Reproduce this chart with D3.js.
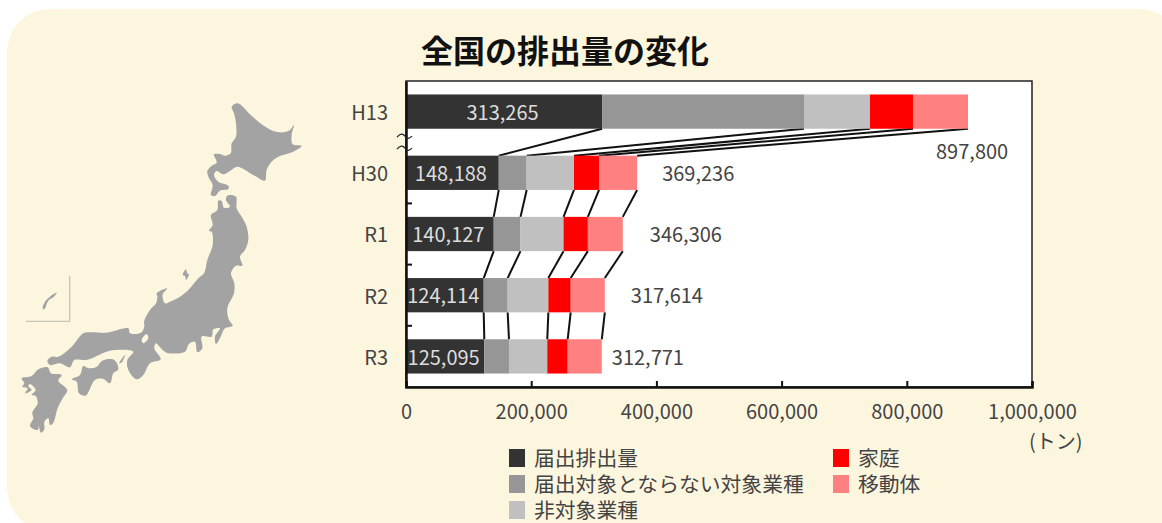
<!DOCTYPE html>
<html>
<head>
<meta charset="utf-8">
<script src="https://cdn.jsdelivr.net/npm/d3@7"></script>
<style>
  html, body { margin: 0; padding: 0; background: #fff; }
  svg { display: block; }
  text { font-family: "Noto Sans CJK JP", "Noto Sans", sans-serif; fill: #444; }
</style>
</head>
<body>
<div class="chart"></div>
<script>
// ======= data =======
const years = ['H13', 'H30', 'R1', 'R2', 'R3']
const seriesNames = ['届出排出量', '届出対象とならない対象業種', '非対象業種', '家庭', '移動体']
const reported = [313265, 148188, 140127, 124114, 125095]
const unreportedSectors = [322500, 44600, 42800, 38300, 39400]
const nonTargetSectors = [105400, 75600, 68700, 65000, 61200]
const households = [68700, 40000, 38900, 35700, 32600]
const vehicles = [87935, 60848, 55779, 54500, 54476]
const totals = [897800, 369236, 346306, 317614, 312771]
const xTicks = [0, 200000, 400000, 600000, 800000, 1000000]

const colors = ['#333333', '#969696', '#c0c0c0', '#ff0000', '#ff8080']

// total labels sit beside the bars, H13 drops below its bar
const totalDx = [-32, 25, 27, 26, 10]
const totalDy = [39, 0, 0, 0, 0]

// ======= map outline, 3x coordinates =======
const honshu = [[633,375],[652,360],[655,332],[665,333],[672,353],[690,350],[678,330],[682,317],[708,320],[710,355],[725,380],[740,410],[745,450],[735,480],[720,500],[727,527],[708,527],[693,550],[703,580],[702,610],[682,655],[687,690],[698,707],[675,715],[660,745],[648,762],[645,740],[660,715],[640,718],[635,740],[605,740],[607,775],[592,787],[585,755],[567,762],[555,785],[500,788],[480,772],[468,760],[463,775],[482,808],[450,820],[430,855],[410,868],[385,840],[382,810],[400,785],[345,780],[315,787],[280,803],[255,810],[223,810],[210,832],[180,820],[150,825],[142,812],[155,800],[175,800],[215,770],[250,730],[275,727],[320,728],[385,715],[390,730],[423,728],[433,710],[432,695],[450,660],[468,640],[472,620],[470,610],[502,595],[488,613],[495,640],[510,635],[540,620],[565,600],[595,565],[612,550],[622,510],[638,465],[635,425],[627,423],[638,405]]
const biwa = [[440,732],[445,745],[430,760],[425,750]]
const hokkaido = [[695,50],[710,40],[720,43],[750,73],[785,103],[820,123],[850,127],[870,120],[882,105],[875,135],[878,163],[905,168],[880,185],[840,198],[815,215],[800,240],[795,272],[760,255],[712,230],[690,243],[670,253],[650,243],[642,255],[655,275],[685,287],[685,297],[660,302],[645,318],[633,315],[638,285],[625,260],[622,243],[635,227],[650,218],[642,193],[660,192],[675,197],[692,190],[695,160],[708,140],[708,100],[702,70]]
const shikoku = [[250,828],[267,835],[290,830],[307,812],[343,810],[355,838],[340,850],[330,880],[310,867],[285,870],[257,917],[237,910],[230,875],[215,868],[240,855]]
const awaji = [[370,800],[375,795],[367,815],[357,820]]
const kyushu = [[65,865],[95,858],[115,838],[143,832],[153,850],[185,855],[175,872],[202,900],[188,925],[173,955],[160,998],[150,1005],[145,985],[133,995],[133,1018],[123,1028],[117,1008],[117,985],[113,1020],[90,1008],[100,985],[97,968],[113,940],[107,918],[95,915],[107,900],[90,882],[85,888],[95,900],[75,910],[83,895],[67,890],[73,880]]
const sado = [[558,538],[562,550],[567,553],[558,570],[555,558],[548,555]]
const okinawa = [[128,655],[135,635],[150,620],[170,608],[160,622],[145,632],[133,658]]
const insetFrame = [[78,694],[209,694],[209,558]]

const W = 1162
const H = 523
const margin = { top: 81, right: 130, bottom: 136, left: 406 }
const width = W - margin.left - margin.right
const height = H - margin.top - margin.bottom

const svg = d3.select('.chart')
  .append('svg')
    .attr('width', W)
    .attr('height', H)

// cream panel runs off the right and bottom of the window
svg.append('rect')
  .attr('x', 7)
  .attr('y', 9)
  .attr('width', 1175)
  .attr('height', 522)
  .attr('rx', 43)
  .style('fill', '#fdf6df')

// ======= map =======
const line = d3.line().curve(d3.curveCatmullRomClosed.alpha(0.5))
const map = svg.append('g')
  .attr('transform', 'translate(0, 90) scale(0.3333)')

map.selectAll('path.land')
  .data([honshu, hokkaido, shikoku, awaji, kyushu, sado, okinawa])
  .join('path')
    .attr('class', 'land')
    .attr('d', line)
    .style('fill', '#a3a3a3')

map.append('path')
  .attr('d', line(biwa))
  .style('fill', '#fdf6df')

map.append('path')
  .attr('d', d3.line()(insetFrame))
  .style('fill', 'none')
  .style('stroke', '#c9c4b8')
  .style('stroke-width', 4)

// ======= chart =======
svg.append('text')
  .attr('x', 565)
  .attr('y', 63)
  .attr('text-anchor', 'middle')
  .style('font-size', '32px')
  .style('font-weight', 700)
  .style('fill', '#111')
  .text('全国の排出量の変化')

const container = svg.append('g')
  .attr('transform', `translate(${margin.left}, ${margin.top})`)

container.append('rect')
  .attr('width', width)
  .attr('height', height)
  .style('fill', '#fff')

const xScale = d3.scaleLinear()
  .domain([0, 1000000])
  .range([0, width])

const yScale = d3.scaleBand()
  .domain(years)
  .range([0, height])
  .paddingInner(0.44)
  .paddingOuter(0.22)

const seriesValues = [reported, unreportedSectors, nonTargetSectors, households, vehicles]
const rows = years.map((year, i) => {
  const row = { year }
  seriesNames.forEach((name, s) => { row[name] = seriesValues[s][i] })
  return row
})
const stacked = d3.stack().keys(seriesNames)(rows)

// lines joining each segment end to the same end on the next bar
const joins = []
stacked.forEach(layer => {
  for (let i = 0; i < years.length - 1; i++) {
    joins.push({ from: layer[i][1], to: layer[i + 1][1], a: years[i], b: years[i + 1] })
  }
})
container.selectAll('line.join')
  .data(joins)
  .join('line')
    .attr('class', 'join')
    .attr('x1', d => xScale(d.from))
    .attr('y1', d => yScale(d.a) + yScale.bandwidth())
    .attr('x2', d => xScale(d.to))
    .attr('y2', d => yScale(d.b))
    .style('stroke', '#111')
    .style('stroke-width', 2)

stacked.forEach((layer, s) => {
  container.selectAll(`rect.s${s}`)
    .data(layer)
    .join('rect')
      .attr('class', `s${s}`)
      .attr('x', d => xScale(d[0]))
      .attr('y', d => yScale(d.data.year))
      .attr('width', d => xScale(d[1]) - xScale(d[0]))
      .attr('height', yScale.bandwidth())
      .style('fill', colors[s])
})

// reported amount inside the dark segment
container.selectAll('text.reported')
  .data(reported)
  .join('text')
    .attr('class', 'reported')
    .attr('x', d => xScale(d / 2) - 1.5)
    .attr('y', (d, i) => yScale(years[i]) + yScale.bandwidth() / 2 + 1)
    .attr('dy', '0.36em')
    .attr('text-anchor', 'middle')
    .style('font-size', '20px')
    .style('fill', '#ddd')
    .text(d3.format(','))

container.selectAll('text.total')
  .data(totals)
  .join('text')
    .attr('class', 'total')
    .attr('x', (d, i) => xScale(d) + totalDx[i])
    .attr('y', (d, i) => yScale(years[i]) + yScale.bandwidth() / 2 + totalDy[i] + 1)
    .attr('dy', '0.36em')
    .style('font-size', '20px')
    .text(d3.format(','))

// plot frame, heavier on the left and bottom
container.append('rect')
  .attr('width', width)
  .attr('height', height)
  .style('fill', 'none')
  .style('stroke', '#222')
  .style('stroke-width', 1.5)

const xAxis = d3.axisBottom(xScale)
  .tickValues(xTicks)
  .tickSize(-6)
  .tickPadding(18)
  .tickFormat(d3.format(','))

container.append('g')
  .attr('transform', `translate(0, ${height})`)
  .call(xAxis)
  .call(g => g.select('.domain').style('stroke', '#111').style('stroke-width', 2.5))
  .call(g => g.selectAll('.tick line').style('stroke', '#111').style('stroke-width', 2))
  .call(g => g.selectAll('text').style('font-size', '20px').style('font-family', null))

const yAxis = d3.axisLeft(yScale)
  .tickSize(0)
  .tickPadding(18)

container.append('g')
  .call(yAxis)
  .call(g => g.select('.domain').style('stroke', '#111').style('stroke-width', 2.5))
  .call(g => g.selectAll('text').attr('dy', '0.42em').style('font-size', '20px').style('font-family', null))

// category boundary ticks; the first boundary carries the axis break instead
const step = yScale.step()
container.selectAll('line.ytick')
  .data(years.slice(2))
  .join('line')
    .attr('class', 'ytick')
    .attr('x1', 0)
    .attr('x2', 6)
    .attr('y1', d => yScale(d) - (step - yScale.bandwidth()) / 2)
    .attr('y2', d => yScale(d) - (step - yScale.bandwidth()) / 2)
    .style('stroke', '#111')
    .style('stroke-width', 2)

const breakY = yScale(years[1]) - (step - yScale.bandwidth()) / 2
container.selectAll('path.break')
  .data([-5, 7])
  .join('path')
    .attr('class', 'break')
    .attr('transform', d => `translate(-9, ${breakY + d})`)
    .attr('d', 'M0,0 C3,-4 6,-4 8,-1 S12,2 15,-1')
    .style('fill', 'none')
    .style('stroke', '#222')
    .style('stroke-width', 1.2)

// ======= legend =======
const legendX = [509, 509, 509, 833, 833]
const legendY = [449, 475, 501, 449, 475]
const legend = svg.selectAll('g.legend')
  .data(seriesNames)
  .join('g')
    .attr('class', 'legend')
    .attr('transform', (d, i) => `translate(${legendX[i]}, ${legendY[i]})`)

legend.append('rect')
  .attr('width', 16)
  .attr('height', 18)
  .style('fill', (d, i) => colors[i])

legend.append('text')
  .attr('x', 25)
  .attr('y', 9)
  .attr('dy', '0.36em')
  .style('font-size', '20.8px')
  .text(d => d)

svg.append('text')
  .attr('x', 1029)
  .attr('y', 449)
  .style('font-size', '20px')
  .text('(トン)')
</script>
</body>
</html>
